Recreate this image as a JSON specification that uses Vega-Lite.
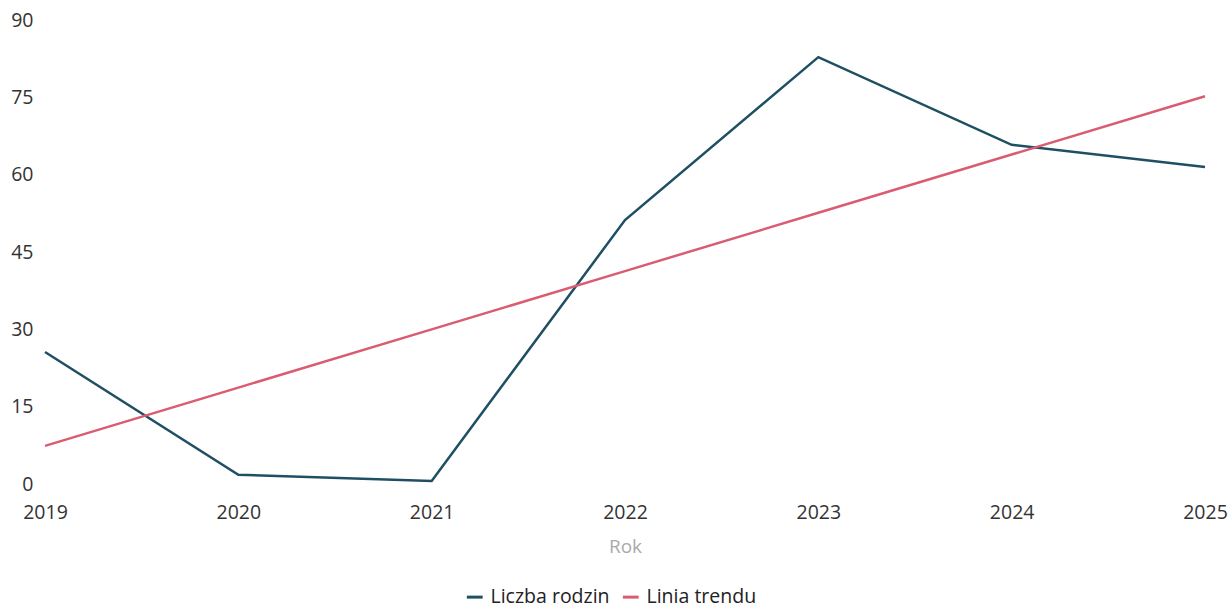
{
  "$schema": "https://vega.github.io/schema/vega-lite/v6.json",
  "autosize": "none",
  "width": 1160,
  "height": 464,
  "padding": {"left": 45, "top": 20, "right": 26, "bottom": 125},
  "background": "white",
  "config": {
    "font": "Open Sans",
    "view": {"stroke": null},
    "axis": {"grid": false, "domain": false, "ticks": false, "labelFont": "Open Sans", "labelFontSize": 19.5, "labelColor": "#333333"}
  },
  "data": {
    "values": [
      {"rok": 2019, "seria": "Liczba rodzin", "wartosc": 25.6},
      {"rok": 2020, "seria": "Liczba rodzin", "wartosc": 1.8},
      {"rok": 2021, "seria": "Liczba rodzin", "wartosc": 0.6},
      {"rok": 2022, "seria": "Liczba rodzin", "wartosc": 51.2},
      {"rok": 2023, "seria": "Liczba rodzin", "wartosc": 82.8},
      {"rok": 2024, "seria": "Liczba rodzin", "wartosc": 65.8},
      {"rok": 2025, "seria": "Liczba rodzin", "wartosc": 61.5},
      {"rok": 2019, "seria": "Linia trendu", "wartosc": 7.4},
      {"rok": 2020, "seria": "Linia trendu", "wartosc": 18.7},
      {"rok": 2021, "seria": "Linia trendu", "wartosc": 30.0},
      {"rok": 2022, "seria": "Linia trendu", "wartosc": 41.3},
      {"rok": 2023, "seria": "Linia trendu", "wartosc": 52.6},
      {"rok": 2024, "seria": "Linia trendu", "wartosc": 63.9},
      {"rok": 2025, "seria": "Linia trendu", "wartosc": 75.2}
    ]
  },
  "mark": {"type": "line", "strokeWidth": 2.5},
  "encoding": {
    "x": {
      "field": "rok", "type": "quantitative",
      "scale": {"domain": [2019, 2025], "nice": false, "zero": false},
      "axis": {"values": [2019, 2020, 2021, 2022, 2023, 2024, 2025], "format": "d", "labelPadding": 19, "title": "Rok", "titleColor": "#aaaaaa", "titleFont": "Open Sans", "titleFontSize": 19, "titleFontWeight": "normal", "titlePadding": 16, "labelFlush": false}
    },
    "y": {
      "field": "wartosc", "type": "quantitative",
      "scale": {"domain": [0, 90], "nice": false},
      "axis": {"values": [0, 15, 30, 45, 60, 75, 90], "title": null, "labelPadding": 12}
    },
    "color": {
      "field": "seria", "type": "nominal",
      "scale": {"domain": ["Liczba rodzin", "Linia trendu"], "range": ["#1f4f63", "#d95c72"]},
      "legend": {
        "title": null, "orient": "none", "direction": "horizontal",
        "legendX": 420, "legendY": 567,
        "symbolType": "stroke", "symbolSize": 250, "symbolStrokeWidth": 3,
        "labelFont": "Open Sans", "labelFontSize": 19.5, "labelColor": "#222222",
        "columnPadding": 6, "symbolOffset": 0, "labelOffset": 6
      }
    }
  }
}
